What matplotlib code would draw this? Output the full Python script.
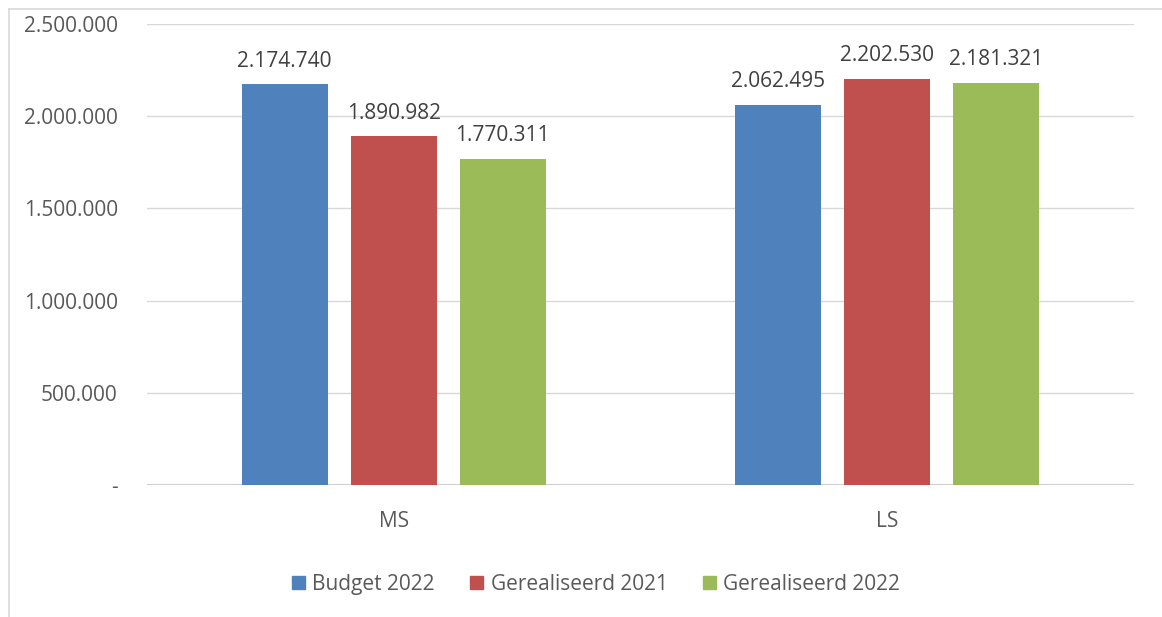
import matplotlib
matplotlib.use("Agg")
import matplotlib.pyplot as plt
import numpy as np
from matplotlib.ticker import FuncFormatter
from matplotlib.lines import Line2D

categories = ["MS", "LS"]
series_names = ["Budget 2022", "Gerealiseerd 2021", "Gerealiseerd 2022"]
budget_2022 = [2174740, 2062495]
gerealiseerd_2021 = [1890982, 2202530]
gerealiseerd_2022 = [1770311, 2181321]
series_values = [budget_2022, gerealiseerd_2021, gerealiseerd_2022]
colors = ["#4F81BD", "#C0504D", "#9BBB59"]

plt.rcParams['font.family'] = ['Open Sans', 'DejaVu Sans']
text_color = "#595959"
fs = 15

fig = plt.figure(figsize=(11.62, 6.17), dpi=100)
ax = fig.add_axes([0.1265, 0.214, 0.9755 - 0.1265, 0.961 - 0.214])

def fmt(v):
    return f"{int(round(v)):,}".replace(",", ".")

x = np.arange(len(categories))
width = 0.1745
offset = 0.221
for i, (name, vals, c) in enumerate(zip(series_names, series_values, colors)):
    pos = x + (i - 1) * offset
    bars = ax.bar(pos, vals, width=width, color=c, label=name, zorder=3)
    for b, v in zip(bars, vals):
        ax.annotate(fmt(v), (b.get_x() + b.get_width() / 2, v), xytext=(0, 9),
                    textcoords="offset points", ha="center", va="bottom",
                    fontsize=fs, color="#404040")

ax.set_xlim(-0.5, 1.5)
ax.set_ylim(0, 2500000)
ax.set_yticks(np.arange(0, 2500001, 500000))
ax.yaxis.set_major_formatter(FuncFormatter(lambda v, p: "-" if v == 0 else fmt(v)))
ax.set_xticks(x)
ax.set_xticklabels(categories)
ax.tick_params(axis='both', length=0, labelsize=fs, labelcolor=text_color)
ax.tick_params(axis='y', pad=21)
ax.tick_params(axis='x', pad=19)
ax.grid(axis='y', color="#D9D9D9", linewidth=1, zorder=0)
for s in ax.spines.values():
    s.set_visible(False)
ax.axhline(0, color="#D0D0D0", linewidth=1.5, zorder=2)

handles = [plt.Rectangle((0, 0), 1, 1, color=c) for c in colors]
fig.legend(handles, series_names, loc="center", bbox_to_anchor=(0.513, 0.053),
           ncol=3, frameon=False, fontsize=fs, labelcolor=text_color,
           handlelength=0.63, handleheight=0.63, handletextpad=0.35, columnspacing=1.7)

# chart-area border (top and left visible)
fig.add_artist(Line2D([0.0077, 1.0], [1 - 9/617, 1 - 9/617], color="#D9D9D9", linewidth=1.2, transform=fig.transFigure))
fig.add_artist(Line2D([0.0077, 0.0077], [0, 1 - 9/617], color="#D9D9D9", linewidth=1.2, transform=fig.transFigure))

fig.savefig("out.png", dpi=100)
